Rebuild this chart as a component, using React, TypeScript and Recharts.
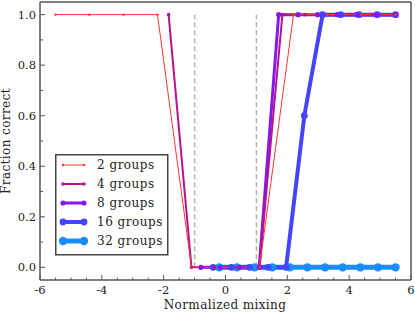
import { LineChart, Line, XAxis, YAxis, ReferenceLine, Legend } from 'recharts';

// x positions (normalized mixing) and fraction correct for each series
const x2 = [-5.5, -4.4, -3.3, -2.2, -1.1, 0, 1.1, 2.2, 3.3, 4.4, 5.5];
const y2 = [1, 1, 1, 1, 0, 0, 0, 1, 1, 1, 1];
const x4 = [-1.84, -1.1, -0.37, 0.37, 1.1, 1.84, 2.57, 3.3, 4.04, 4.77, 5.5];
const y4 = [1, 0, 0, 0, 0, 1, 1, 1, 1, 1, 1];
const x8 = [-0.8, -0.17, 0.46, 1.09, 1.72, 2.35, 2.98, 3.61, 4.24, 4.87, 5.5];
const y8 = [0, 0, 0, 0, 1, 1, 1, 1, 1, 1, 1];
const x16 = [-0.4, 0.19, 0.78, 1.37, 1.96, 2.55, 3.14, 3.73, 4.32, 4.91, 5.5];
const y16 = [0, 0, 0, 0, 0, 0.6, 1, 1, 1, 1, 1];
const x32 = [-0.2, 0.37, 0.94, 1.51, 2.08, 2.65, 3.22, 3.79, 4.36, 4.93, 5.5];
const y32 = [0, 0, 0, 0, 0, 0, 0, 0, 0, 0, 0];

const groupNames = ['2 groups', '4 groups', '8 groups', '16 groups', '32 groups'];
const xTicks = Array.from({ length: 25 }, (_, i) => -6 + i * 0.5);
const yTicks = Array.from({ length: 11 }, (_, i) => Math.round(i * 10) / 100);
const thresholds = [-1, 1];

const FONT = '"DejaVu Serif", serif';
const TEXT = '#222';
const FRAME = '#555';

const series = [
    { name: groupNames[0], xs: x2, ys: y2, color: '#ff3535', width: 1, r: 1.2 },
    { name: groupNames[1], xs: x4, ys: y4, color: '#b8138e', width: 2, r: 1.8 },
    { name: groupNames[2], xs: x8, ys: y8, color: '#8318f0', width: 3, r: 2.6 },
    { name: groupNames[3], xs: x16, ys: y16, color: '#4545ff', width: 4, r: 3.4 },
    { name: groupNames[4], xs: x32, ys: y32, color: '#1a8cff', width: 5, r: 4.2 },
].map(s => ({ ...s, data: s.xs.map((x, i) => ({ x, y: s.ys[i] })) }));

const isEven = (v: number) => Math.abs(v / 2 - Math.round(v / 2)) < 1e-6;
const isMajorY = (v: number) => Math.abs(v * 5 - Math.round(v * 5)) < 1e-6;

const XTick = ({ x, y, payload, side }: any) => {
    const v = payload.value;
    const major = isEven(v);
    const len = major ? 5 : 2.5;
    const dir = side === 'top' ? 1 : -1;
    return (
        <g>
            <line x1={x} y1={y} x2={x} y2={y + dir * len} stroke={FRAME} strokeWidth={1} />
            {side !== 'top' && major && (
                <text x={x} y={y + 13.5} textAnchor="middle" fontFamily={FONT} fontSize={11.5} fill={TEXT}>
                    {v}
                </text>
            )}
        </g>
    );
};

const YTick = ({ x, y, payload, side }: any) => {
    const v = payload.value;
    const major = isMajorY(v);
    const len = major ? 5 : 3;
    const dir = side === 'right' ? -1 : 1;
    return (
        <g>
            <line x1={x} y1={y} x2={x + dir * len} y2={y} stroke={FRAME} strokeWidth={1} />
            {side !== 'right' && major && (
                <text x={x - 4} y={y + 4} textAnchor="end" fontFamily={FONT} fontSize={11.5} fill={TEXT}>
                    {v.toFixed(1)}
                </text>
            )}
        </g>
    );
};

const renderLegend = () => (
    <svg width={114} height={102} style={{ display: 'block' }}>
        <rect x={0.75} y={0.75} width={112} height={100} fill="#fff" stroke="#444" strokeWidth={1.5} />
        {series.map((s, i) => {
            const cy = 11 + i * 19;
            return (
                <g key={s.name}>
                    <line x1={8} y1={cy} x2={29} y2={cy} stroke={s.color} strokeWidth={s.width} />
                    <circle cx={8} cy={cy} r={s.r} fill={s.color} />
                    <circle cx={29} cy={cy} r={s.r} fill={s.color} />
                    <text x={42} y={cy + 4} fontFamily={FONT} fontSize={12} letterSpacing={0.5} fill={TEXT}>
                        {s.name}
                    </text>
                </g>
            );
        })}
    </svg>
);

export default function App() {
    return (
        <div style={{ position: 'absolute', left: 0, top: 0, width: 415, height: 314, background: '#fff' }}>
            <LineChart width={415} height={314} margin={{ top: 1, right: 3, bottom: 4, left: 4 }}>
                <XAxis
                    xAxisId={0}
                    dataKey="x"
                    type="number"
                    domain={[-6, 6]}
                    ticks={xTicks}
                    height={30}
                    tickSize={0}
                    tickMargin={0}
                    tickLine={false}
                    axisLine={{ stroke: FRAME, strokeWidth: 1.5 }}
                    tick={<XTick side="bottom" />}
                    interval={0}
                    label={{
                        content: () => (
                            <text x={225} y={309} textAnchor="middle" fontFamily={FONT} fontSize={12} letterSpacing={0.4} fill={TEXT}>
                                Normalized mixing
                            </text>
                        ),
                    }}
                />
                <XAxis
                    xAxisId="top"
                    orientation="top"
                    dataKey="x"
                    type="number"
                    domain={[-6, 6]}
                    ticks={xTicks}
                    height={1}
                    tickSize={0}
                    tickMargin={0}
                    tickLine={false}
                    axisLine={{ stroke: FRAME, strokeWidth: 1.5 }}
                    tick={<XTick side="top" />}
                    interval={0}
                />
                <YAxis
                    yAxisId={0}
                    type="number"
                    domain={[-0.05, 1.05]}
                    ticks={yTicks}
                    width={36}
                    tickSize={0}
                    tickMargin={0}
                    tickLine={false}
                    axisLine={{ stroke: FRAME, strokeWidth: 1.5 }}
                    tick={<YTick side="left" />}
                    interval={0}
                    label={{
                        content: () => (
                            <text
                                x={10}
                                y={141}
                                transform="rotate(-90 10 141)"
                                textAnchor="middle"
                                fontFamily={FONT}
                                fontSize={12}
                                letterSpacing={0.4}
                                fill={TEXT}
                            >
                                Fraction correct
                            </text>
                        ),
                    }}
                />
                <YAxis
                    yAxisId="right"
                    orientation="right"
                    type="number"
                    domain={[-0.05, 1.05]}
                    ticks={yTicks}
                    width={1}
                    tickSize={0}
                    tickMargin={0}
                    tickLine={false}
                    axisLine={{ stroke: FRAME, strokeWidth: 1.5 }}
                    tick={<YTick side="right" />}
                    interval={0}
                />
                {thresholds.map(t => (
                    <ReferenceLine
                        key={t}
                        xAxisId={0}
                        yAxisId={0}
                        segment={[{ x: t, y: 0 }, { x: t, y: 1 }]}
                        stroke="#b0b0b0"
                        strokeWidth={1.5}
                        strokeDasharray="5 3"
                    />
                ))}
                {[...series].reverse().map(s => (
                    <Line
                        key={s.name}
                        xAxisId={0}
                        yAxisId={0}
                        data={s.data}
                        dataKey="y"
                        name={s.name}
                        type="linear"
                        stroke={s.color}
                        strokeWidth={s.width}
                        dot={{ r: s.r, fill: s.color, stroke: 'none' }}
                        activeDot={false}
                        isAnimationActive={false}
                    />
                ))}
                <Legend
                    layout="vertical"
                    align="center"
                    verticalAlign="middle"
                    content={renderLegend}
                    wrapperStyle={{ left: 55, top: 154, width: 114, height: 102 }}
                />
            </LineChart>
        </div>
    );
}
